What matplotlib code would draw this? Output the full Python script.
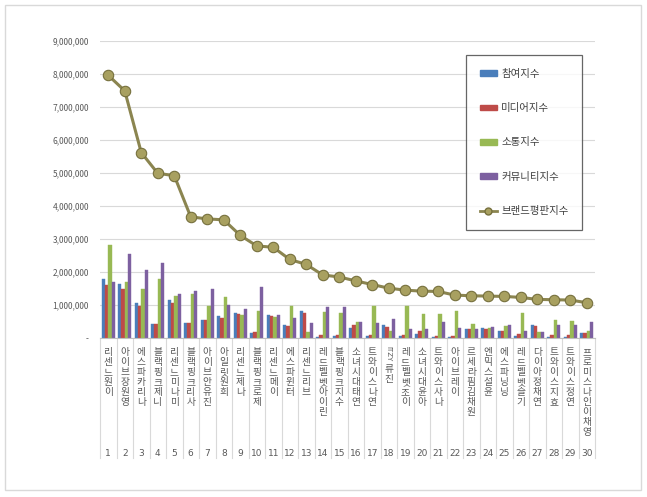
import numpy as np
import matplotlib
matplotlib.use("Agg")
import matplotlib.pyplot as plt
from matplotlib.patches import Rectangle, Patch
from matplotlib.lines import Line2D

plt.rcParams['font.family'] = ['Noto Sans CJK KR', 'DejaVu Sans']

# 데이터
names = ["리센느 원이", "아이브 장원영", "에스파 카리나", "블랙핑크 제니", "리센느 미나미",
         "블랙핑크 리사", "아이브 안유진", "아일릿 원희", "리센느 제나", "블랙핑크 로제",
         "리센느 메이", "에스파 윈터", "리센느 리브", "레드벨벳 아이린", "블랙핑크 지수",
         "소녀시대 태연", "트와이스 나연", "ITZY 류진", "레드벨벳 조이", "소녀시대 윤아",
         "트와이스 사나", "아이브 레이", "르세라핌 김채원", "엔믹스 설윤", "에스파 닝닝",
         "레드벨벳 슬기", "다이아 정채연", "트와이스 지효", "트와이스 정연", "프로미스나인 이채영"]
ranks = list(range(1, 31))

participation = [1780000, 1650000, 1050000, 410000, 1140000, 440000, 540000, 660000, 770000, 160000,
                 710000, 390000, 820000, 30000, 50000, 310000, 50000, 390000, 50000, 130000,
                 40000, 40000, 270000, 300000, 220000, 60000, 390000, 40000, 40000, 140000]
media = [1600000, 1500000, 970000, 430000, 1050000, 440000, 540000, 620000, 720000, 190000,
         670000, 360000, 760000, 80000, 80000, 380000, 100000, 320000, 80000, 210000,
         60000, 70000, 270000, 270000, 200000, 120000, 350000, 80000, 80000, 150000]
communication = [2820000, 1710000, 1480000, 1780000, 1280000, 1320000, 970000, 1230000, 690000, 820000,
                 650000, 970000, 180000, 790000, 760000, 490000, 970000, 200000, 970000, 730000,
                 730000, 820000, 420000, 290000, 370000, 770000, 180000, 560000, 510000, 200000]
community = [1710000, 2550000, 2060000, 2260000, 1340000, 1420000, 1500000, 990000, 890000, 1550000,
             690000, 600000, 440000, 940000, 940000, 490000, 450000, 570000, 270000, 280000,
             500000, 300000, 270000, 340000, 390000, 220000, 170000, 400000, 380000, 500000]
brand = [7960000, 7490000, 5620000, 4990000, 4920000, 3670000, 3610000, 3580000, 3110000, 2790000,
         2750000, 2380000, 2230000, 1910000, 1850000, 1730000, 1620000, 1510000, 1450000, 1420000,
         1410000, 1300000, 1280000, 1270000, 1260000, 1230000, 1170000, 1160000, 1150000, 1070000]

series = [("참여지수", participation, "#4A7EBB"),
          ("미디어지수", media, "#BE4B48"),
          ("소통지수", communication, "#98B954"),
          ("커뮤니티지수", community, "#7D60A0")]

W, H = 647, 497
fig = plt.figure(figsize=(W / 100, H / 100), dpi=100)
fig.patch.set_facecolor("white")

# 외곽 테두리
fig.patches.append(Rectangle((5 / W, 1 - 490 / H), 636 / W, 485 / H, transform=fig.transFigure,
                             fill=False, edgecolor="#D9D9D9", linewidth=1.0))

ax_left, ax_right, ax_top, ax_bottom = 100, 595, 41, 338
ax = fig.add_axes([ax_left / W, 1 - ax_bottom / H, (ax_right - ax_left) / W, (ax_bottom - ax_top) / H])

x = np.arange(len(names))
bw = 0.2
for k, (label, vals, color) in enumerate(series):
    ax.bar(x + (k - 1.5) * bw, vals, width=bw, color=color, edgecolor=color, linewidth=0.3, zorder=2)

ax.plot(x, brand, color="#8B8550", linewidth=2.2, marker="o", markersize=7.5,
        markerfacecolor="#A8A060", markeredgecolor="#76703D", markeredgewidth=0.8, zorder=3)

ax.set_xlim(-0.5, len(names) - 0.5)
ax.set_ylim(0, 9000000)
yt = np.arange(0, 9000001, 1000000)
ax.set_yticks(yt)
ax.set_yticklabels(["-"] + [f"{v:,}" for v in yt[1:]], fontsize=6, color="#595959")
ax.tick_params(axis="y", length=0, pad=8)
ax.set_xticks([])
ax.grid(axis="y", color="#D9D9D9", linewidth=0.8, zorder=0)
ax.set_axisbelow(True)
for s in ["top", "right", "left"]:
    ax.spines[s].set_visible(False)
ax.spines["bottom"].set_color("#BFBFBF")
ax.spines["bottom"].set_linewidth(0.8)

# x축 레이블 (세로 글자)
ph = ax_bottom - ax_top
trans = ax.get_xaxis_transform()


def fy(py):
    # 그림 픽셀 y -> 축 비율
    return -(py - ax_bottom) / ph


for i, nm in enumerate(names):
    y0 = 352
    if nm.startswith("ITZY"):
        ax.text(i, fy(346), "ITZY", transform=trans, rotation=-90,
                ha="center", va="top", fontsize=5, color="#595959", family="DejaVu Sans")
        y0 = 369
        nm = nm[4:]
    chars = [c for c in nm if c != " "]
    for j, c in enumerate(chars):
        ax.text(i, fy(y0 + j * 10), c, transform=trans, ha="center", va="center",
                fontsize=7, color="#595959", clip_on=False)
    ax.text(i, fy(453), str(ranks[i]), transform=trans, ha="center", va="center",
            fontsize=6.5, color="#595959", family="DejaVu Sans")

for b in np.arange(-0.5, len(names), 1.0):
    ax.plot([b, b], [0, fy(458)], transform=trans, color="#D9D9D9",
            linewidth=0.8, clip_on=False)

# 범례
handles = [Patch(facecolor=c, edgecolor=c) for _, _, c in series]
handles.append(Line2D([], [], color="#8B8550", linewidth=2, marker="o", markersize=5,
                      markerfacecolor="#A8A060", markeredgecolor="#76703D"))
labels = [s[0] for s in series] + ["브랜드평판지수"]
leg = ax.legend(handles, labels, loc="upper left", bbox_to_anchor=(466 / W, 1 - 55 / H),
                bbox_transform=fig.transFigure, fontsize=7.5, labelspacing=2.35,
                handlelength=1.7, handleheight=0.45, handletextpad=0.4, borderpad=1.3,
                borderaxespad=0, frameon=True, fancybox=False)
leg.get_frame().set_edgecolor("#404040")
leg.get_frame().set_linewidth(0.9)
for t in leg.get_texts():
    t.set_color("#404040")

fig.savefig("out.png", dpi=100)
